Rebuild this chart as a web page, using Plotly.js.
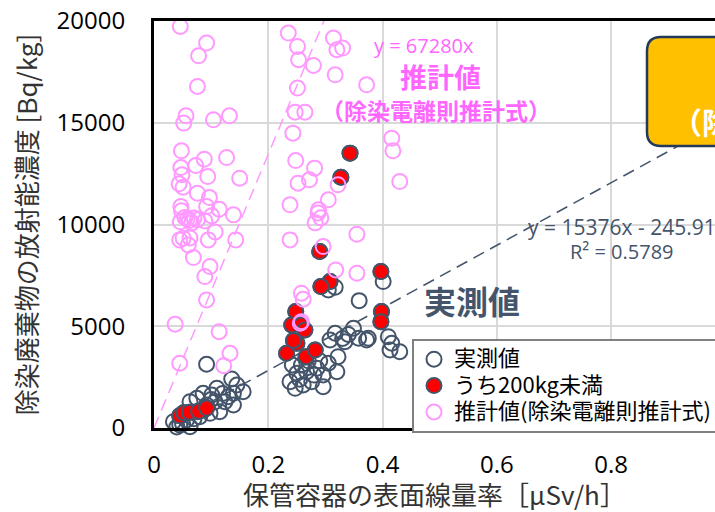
<!DOCTYPE html>
<html>
<head>
<meta charset="utf-8">
<script src="https://cdn.plot.ly/plotly-3.0.1.min.js"></script>
<style>html,body{margin:0;padding:0;background:#fff;overflow:hidden;}</style>
</head>
<body>
<div id="chart" style="width:715px;height:512px;"></div>
<script>
// 実測値 (measured)
const measX = [0.092,0.136,0.145,0.156,0.139,0.110,0.101,0.086,0.075,0.063,0.124,0.139,0.115,0.098,0.080,0.057,0.045,0.040,0.063,0.034,0.051,0.075,0.092,0.107,0.130,0.050,0.070,0.088,0.120,0.100,
  0.305,0.317,0.401,0.359,0.317,0.349,0.358,0.372,0.334,0.308,0.322,0.305,0.320,0.296,0.296,0.276,0.261,0.247,0.238,0.250,0.267,0.285,0.280,0.258,0.242,0.410,0.416,0.430,0.413,0.375,0.340,0.330,0.290,0.270,0.255,
  0.045,0.052,0.062,0.078,0.092,0.343,0.327,0.290,0.308,0.292,0.397,0.398,0.397,0.248,0.241,0.258,0.264,0.250,0.232,0.266,0.282,0.244];
const measY = [3132,2409,2114,1785,1706,1952,1623,1706,1460,1293,1293,1131,801,723,556,393,148,50,64,310,639,801,1131,1293,1539,200,450,900,1700,1400,
  6785,6918,7194,6259,4656,4902,4410,4327,4244,4327,3506,3181,2768,2606,2031,2277,2114,1952,2277,2690,2768,2935,2600,3098,3098,4489,4165,3752,3835,4410,4600,4400,3300,3300,2400,
  600,750,780,820,980,13507,12327,8669,7194,6948,7686,5719,5227,5719,5065,5065,4819,4165,3673,3506,3835,4300];

// うち200kg未満 (under 200 kg)
const smallX = [0.045,0.052,0.062,0.078,0.092,0.343,0.327,0.290,0.308,0.292,0.397,0.398,0.397,0.248,0.241,0.258,0.264,0.250,0.232,0.266,0.282,0.244];
const smallY = [600,750,780,820,980,13507,12327,8669,7194,6948,7686,5719,5227,5719,5065,5065,4819,4165,3673,3506,3835,4300];

// 推計値 (estimated)
const estX = [0.046,0.092,0.078,0.076,0.056,0.052,0.104,0.132,0.048,0.088,0.127,0.073,0.047,0.049,0.094,0.150,0.044,0.051,0.076,0.097,0.047,0.092,0.114,0.048,0.139,
  0.046,0.058,0.066,0.076,0.089,0.101,0.054,0.062,0.070,0.045,0.063,0.095,0.107,0.143,0.051,0.060,0.069,0.098,0.089,0.092,0.037,0.114,0.133,0.122,0.045,
  0.235,0.251,0.253,0.279,0.314,0.320,0.330,0.317,0.372,0.251,0.247,0.264,0.243,0.248,0.281,0.252,0.272,0.322,0.305,0.238,0.288,0.287,0.292,0.282,0.416,0.418,0.430,
  0.238,0.355,0.296,0.318,0.355,0.258,0.261,0.256,0.258];
const estY = [19733,18915,18291,16782,15341,14982,15144,15341,13620,13212,13290,12897,12799,12440,12357,12278,11997,11835,11540,11324,10881,10881,10753,10670,10473,
  10130,10276,10080,10228,10178,10424,10350,10200,10320,9244,9342,9244,9637,9244,9327,8998,8374,7931,7440,6294,5099,4735,3673,3063,3181,
  19406,18750,18095,17815,19160,18587,18669,17357,16865,16703,15522,15522,14490,13143,12770,12031,12194,11948,11211,10965,10719,10571,10326,10080,14244,13620,12110,
  9244,9524,8915,7769,7606,6623,6328,5148,5227];

// trendline coefficients (from chart labels)
const measSlope = 15376, measIntercept = -245.91;
const estSlope = 67280;
const measLineX = [0.034, 1.3];
const estLineX = [0, 0.43];

const xTicks = [0, 0.2, 0.4, 0.6, 0.8];
const yTicks = [0, 5000, 10000, 15000, 20000];

const seriesNames = ['実測値', 'うち200kg未満', '推計値(除染電離則推計式)'];

const DARK = '#44546A', PINK = '#FF99FF', PINKTXT = '#FF66FF', RED = '#FF0000';
const CJK = '"Noto Sans CJK JP", "Noto Sans", sans-serif';
const NUM = '"Open Sans", "Noto Sans", sans-serif';
const legName = s => `<span style="font-size:22px">${s}</span>`;

const traces = [
  {x: measLineX, y: measLineX.map(v => measSlope * v + measIntercept), mode: 'lines', showlegend: false, hoverinfo: 'skip',
   line: {color: DARK, width: 1.5, dash: '12px,7px'}},
  {x: estLineX, y: estLineX.map(v => estSlope * v), mode: 'lines', showlegend: false, hoverinfo: 'skip',
   line: {color: PINK, width: 1.5, dash: '12px,7px'}},
  {x: measX, y: measY, name: legName(seriesNames[0]), mode: 'markers', type: 'scatter', cliponaxis: false,
   marker: {symbol: 'circle-open', size: 15, color: DARK, line: {color: DARK, width: 2}}},
  {x: smallX, y: smallY, name: legName(seriesNames[1]), mode: 'markers', type: 'scatter', cliponaxis: false,
   marker: {symbol: 'circle', size: 15, color: RED, line: {color: DARK, width: 2}}},
  {x: estX, y: estY, name: legName(seriesNames[2]), mode: 'markers', type: 'scatter', cliponaxis: false,
   marker: {symbol: 'circle-open', size: 15, color: PINK, line: {color: PINK, width: 2}}}
];

const L = 154, T = 21, B = 84, W = 715, H = 512;
const plotW = W - L, plotH = H - T - B;
const pxPerX = 571.5;
const xMax = plotW / pxPerX;

const bx0 = (647 - L) / plotW, by0 = (428 - 146) / plotH, by1 = (428 - 37) / plotH;
const rx = 14 / plotW, ry = 14 / plotH, bx1 = 1.6;
const boxPath = `M ${bx0 + rx},${by1} L ${bx1},${by1} L ${bx1},${by0} L ${bx0 + rx},${by0} Q ${bx0},${by0} ${bx0},${by0 + ry} L ${bx0},${by1 - ry} Q ${bx0},${by1} ${bx0 + rx},${by1} Z`;

const layout = {
  width: W, height: H,
  margin: {l: L, r: 0, t: T, b: B, autoexpand: false},
  paper_bgcolor: '#fff', plot_bgcolor: '#fff',
  font: {family: CJK, color: '#000'},
  showlegend: true,
  legend: {x: (412 - L) / plotW, y: (428 - 339) / plotH, xanchor: 'left', yanchor: 'top',
    bgcolor: '#fff', bordercolor: '#808080', borderwidth: 2,
    font: {family: CJK, size: 18, color: '#000'}, itemwidth: 30, tracegroupgap: 0},
  xaxis: {range: [0, xMax], tickvals: xTicks, ticktext: xTicks.map(String), showgrid: true, gridcolor: '#D9D9D9', gridwidth: 2,
    zeroline: false, showline: true, linecolor: '#000', linewidth: 3, mirror: true, ticks: '', ticklabelstandoff: 13,
    tickfont: {family: NUM, size: 24, color: '#000'},
    title: {text: '保管容器の表面線量率［μSv/h］\u00a0\u00a0\u00a0\u00a0\u00a0\u00a0', font: {family: CJK, size: 26, color: '#333'}, standoff: 10}},
  yaxis: {range: [0, 20000], tickvals: yTicks, ticktext: yTicks.map(String), showgrid: true, gridcolor: '#D9D9D9', gridwidth: 2,
    zeroline: false, showline: true, linecolor: '#000', linewidth: 3, mirror: false, ticks: '', ticklabelstandoff: 21,
    tickfont: {family: NUM, size: 24, color: '#000'},
    title: {text: '除染廃棄物の放射能濃度 [Bq/kg]\u00a0\u00a0\u00a0\u00a0', font: {family: CJK, size: 26, color: '#333'}, standoff: 12}},
  shapes: [
    {type: 'path', xref: 'paper', yref: 'paper', path: boxPath, fillcolor: '#FFC000', line: {color: '#22395A', width: 2.5}, layer: 'above'}
  ],
  annotations: [
    {xref: 'x', yref: 'y', x: 0.4725, y: 18783, text: 'y = 67280x', showarrow: false, font: {family: NUM, size: 20, color: PINKTXT}},
    {xref: 'x', yref: 'y', x: 0.502, y: 17259, text: '<b>推計値</b>', showarrow: false, font: {family: CJK, size: 27, color: PINKTXT}},
    {xref: 'x', yref: 'y', x: 0.493, y: 15636, text: '<b>（除染電離則推計式）</b>', showarrow: false, font: {family: CJK, size: 23, color: PINKTXT}},
    {xref: 'x', yref: 'y', x: 0.5564, y: 6294, text: '<b>実測値</b>', showarrow: false, font: {family: CJK, size: 32, color: DARK}},
    {xref: 'x', yref: 'y', x: 0.651, y: 9900, xanchor: 'left', text: 'y = 15376x - 245.91', showarrow: false, font: {family: NUM, size: 21, color: DARK}},
    {xref: 'x', yref: 'y', x: 0.7244, y: 8650, xanchor: 'left', text: 'R² = 0.5789', showarrow: false, font: {family: NUM, size: 20, color: DARK}},
    {xref: 'x', yref: 'y', x: 0.903, y: 15095, xanchor: 'left', text: '<b>（除染電離則推計式）</b>', showarrow: false, font: {family: CJK, size: 30, color: '#fff'}}
  ]
};

Plotly.newPlot('chart', traces, layout, {displayModeBar: false, staticPlot: true});
</script>
</body>
</html>
